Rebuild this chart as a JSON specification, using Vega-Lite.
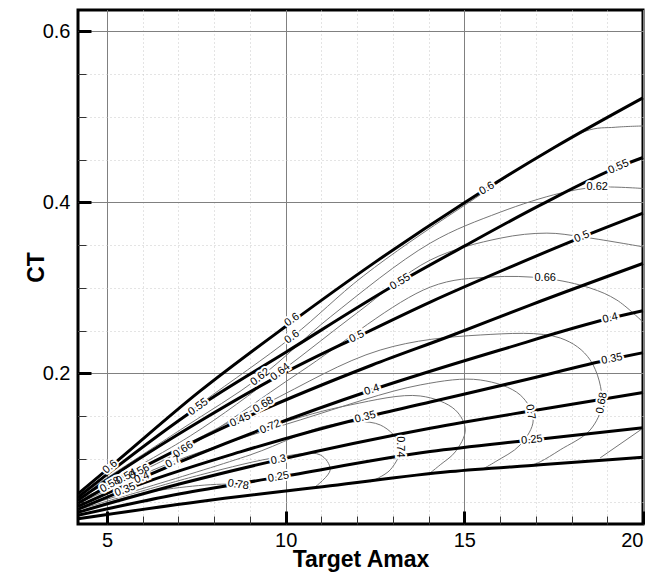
{
  "$schema": "https://vega.github.io/schema/vega-lite/v6.json",
  "width": 565,
  "height": 514,
  "autosize": "none",
  "padding": {"left": 78, "top": 10, "right": 11, "bottom": 50},
  "background": "white",
  "config": {
    "view": {"stroke": "black", "strokeWidth": 3},
    "axis": {"labelFont": "Liberation Sans", "titleFont": "Liberation Sans", "labelColor": "black", "titleColor": "black", "domain": false}
  },
  "datasets": {
    "thick": [
      {"c":"0.6","i":0,"x":4.19,"y":0.0593},{"c":"0.6","i":1,"x":5.092,"y":0.0908},{"c":"0.6","i":2,"x":7.611,"y":0.1796},{"c":"0.6","i":3,"x":10.017,"y":0.2555},{"c":"0.6","i":4,"x":12.507,"y":0.3302},{"c":"0.6","i":5,"x":15.026,"y":0.4003},{"c":"0.6","i":6,"x":17.529,"y":0.4645},{"c":"0.6","i":7,"x":20,"y":0.5223},
      {"c":"0.55","i":0,"x":4.19,"y":0.0552},{"c":"0.55","i":1,"x":5.092,"y":0.085},{"c":"0.55","i":2,"x":7.555,"y":0.1609},{"c":"0.55","i":3,"x":10.017,"y":0.2251},{"c":"0.55","i":4,"x":13.206,"y":0.3072},{"c":"0.55","i":5,"x":15.026,"y":0.3495},{"c":"0.55","i":6,"x":17.123,"y":0.3968},{"c":"0.55","i":7,"x":19.314,"y":0.4415},{"c":"0.55","i":8,"x":20,"y":0.4525},
      {"c":"0.5","i":0,"x":4.19,"y":0.0517},{"c":"0.5","i":1,"x":5.092,"y":0.078},{"c":"0.5","i":2,"x":7.611,"y":0.1445},{"c":"0.5","i":3,"x":10.017,"y":0.2018},{"c":"0.5","i":4,"x":11.995,"y":0.2426},{"c":"0.5","i":5,"x":14.046,"y":0.2835},{"c":"0.5","i":6,"x":16.284,"y":0.3244},{"c":"0.5","i":7,"x":18.29,"y":0.3594},{"c":"0.5","i":8,"x":20,"y":0.3874},
      {"c":"0.45","i":0,"x":4.19,"y":0.0482},{"c":"0.45","i":1,"x":5.092,"y":0.0698},{"c":"0.45","i":2,"x":8.73,"y":0.1457},{"c":"0.45","i":3,"x":12.423,"y":0.2099},{"c":"0.45","i":4,"x":14.606,"y":0.2438},{"c":"0.45","i":5,"x":16.844,"y":0.28},{"c":"0.45","i":6,"x":20,"y":0.3287},
      {"c":"0.4","i":0,"x":4.19,"y":0.0447},{"c":"0.4","i":1,"x":5.092,"y":0.0616},{"c":"0.4","i":2,"x":5.979,"y":0.078},{"c":"0.4","i":3,"x":9.289,"y":0.134},{"c":"0.4","i":4,"x":12.415,"y":0.1807},{"c":"0.4","i":5,"x":16.004,"y":0.2274},{"c":"0.4","i":6,"x":19.082,"y":0.2645},{"c":"0.4","i":7,"x":20,"y":0.2733},
      {"c":"0.35","i":0,"x":4.19,"y":0.0412},{"c":"0.35","i":1,"x":5.512,"y":0.064},{"c":"0.35","i":2,"x":8.73,"y":0.1083},{"c":"0.35","i":3,"x":12.227,"y":0.1489},{"c":"0.35","i":4,"x":14.046,"y":0.1667},{"c":"0.35","i":5,"x":16.564,"y":0.1912},{"c":"0.35","i":6,"x":19.13,"y":0.2169},{"c":"0.35","i":7,"x":20,"y":0.2243},
      {"c":"0.3","i":0,"x":4.19,"y":0.0377},{"c":"0.3","i":1,"x":7.051,"y":0.071},{"c":"0.3","i":2,"x":9.801,"y":0.099},{"c":"0.3","i":3,"x":14.046,"y":0.136},{"c":"0.3","i":4,"x":17.123,"y":0.158},{"c":"0.3","i":5,"x":20,"y":0.1778},
      {"c":"0.25","i":0,"x":4.19,"y":0.0342},{"c":"0.25","i":1,"x":7.051,"y":0.0593},{"c":"0.25","i":2,"x":9.801,"y":0.0788},{"c":"0.25","i":3,"x":14.046,"y":0.1087},{"c":"0.25","i":4,"x":16.891,"y":0.1223},{"c":"0.25","i":5,"x":20,"y":0.1366},
      {"c":"0.2","i":0,"x":4.19,"y":0.0301},{"c":"0.2","i":1,"x":7.611,"y":0.0503},{"c":"0.2","i":2,"x":11.248,"y":0.0686},{"c":"0.2","i":3,"x":14.606,"y":0.0853},{"c":"0.2","i":4,"x":17.123,"y":0.0932},{"c":"0.2","i":5,"x":20,"y":0.1021}
    ],
    "thin": [
      {"c":"e0.6","i":0,"x":4.19,"y":0.057},{"c":"e0.6","i":1,"x":7.611,"y":0.1644},{"c":"e0.6","i":2,"x":10.176,"y":0.2426},{"c":"e0.6","i":3,"x":12.171,"y":0.3139},{"c":"e0.6","i":4,"x":14.886,"y":0.3933},{"c":"e0.6","i":5,"x":18.383,"y":0.4832},{"c":"e0.6","i":6,"x":19.222,"y":0.4879},{"c":"e0.6","i":7,"x":20,"y":0.4894},
      {"c":"e0.62","i":0,"x":4.19,"y":0.0558},{"c":"e0.62","i":1,"x":7.051,"y":0.134},{"c":"e0.62","i":2,"x":9.289,"y":0.1959},{"c":"e0.62","i":3,"x":11.248,"y":0.266},{"c":"e0.62","i":4,"x":14.046,"y":0.3524},{"c":"e0.62","i":5,"x":16.004,"y":0.3886},{"c":"e0.62","i":6,"x":17.683,"y":0.4108},{"c":"e0.62","i":7,"x":18.718,"y":0.4178},{"c":"e0.62","i":8,"x":20,"y":0.4163},
      {"c":"e0.64","i":0,"x":4.19,"y":0.0534},{"c":"e0.64","i":1,"x":7.331,"y":0.127},{"c":"e0.64","i":2,"x":9.849,"y":0.2018},{"c":"e0.64","i":3,"x":11.995,"y":0.2707},{"c":"e0.64","i":4,"x":14.046,"y":0.3326},{"c":"e0.64","i":5,"x":16.004,"y":0.3582},{"c":"e0.64","i":6,"x":17.311,"y":0.3641},{"c":"e0.64","i":7,"x":18.29,"y":0.3598},{"c":"e0.64","i":8,"x":20,"y":0.3481},
      {"c":"e0.66","i":0,"x":4.19,"y":0.0523},{"c":"e0.66","i":1,"x":7.135,"y":0.1107},{"c":"e0.66","i":2,"x":10.408,"y":0.2018},{"c":"e0.66","i":3,"x":14.046,"y":0.301},{"c":"e0.66","i":4,"x":15.725,"y":0.3127},{"c":"e0.66","i":5,"x":17.263,"y":0.3112},{"c":"e0.66","i":6,"x":18.522,"y":0.2999},{"c":"e0.66","i":7,"x":19.27,"y":0.2858},{"c":"e0.66","i":8,"x":20,"y":0.2601},
      {"c":"e0.66b","i":0,"x":20,"y":0.136},{"c":"e0.66b","i":1,"x":18.802,"y":0.1013},
      {"c":"e0.68","i":0,"x":4.19,"y":0.0499},{"c":"e0.68","i":1,"x":9.373,"y":0.1632},{"c":"e0.68","i":2,"x":12.647,"y":0.2274},{"c":"e0.68","i":3,"x":15.445,"y":0.245},{"c":"e0.68","i":4,"x":17.683,"y":0.2415},{"c":"e0.68","i":5,"x":18.522,"y":0.2158},{"c":"e0.68","i":6,"x":18.85,"y":0.1655},{"c":"e0.68","i":7,"x":18.522,"y":0.134},{"c":"e0.68","i":8,"x":17.683,"y":0.1107},{"c":"e0.68","i":9,"x":17.123,"y":0.0967},{"c":"e0.68","i":10,"x":16.844,"y":0.092},
      {"c":"e0.7","i":0,"x":4.19,"y":0.0476},{"c":"e0.7","i":1,"x":6.855,"y":0.0967},{"c":"e0.7","i":2,"x":10.408,"y":0.1457},{"c":"e0.7","i":3,"x":13.766,"y":0.1866},{"c":"e0.7","i":4,"x":15.445,"y":0.1924},{"c":"e0.7","i":5,"x":16.564,"y":0.1749},{"c":"e0.7","i":6,"x":16.928,"y":0.1457},{"c":"e0.7","i":7,"x":16.564,"y":0.1165},{"c":"e0.7","i":8,"x":15.865,"y":0.0967},{"c":"e0.7","i":9,"x":15.529,"y":0.0885},
      {"c":"e0.72","i":0,"x":4.19,"y":0.0453},{"c":"e0.72","i":1,"x":9.569,"y":0.1375},{"c":"e0.72","i":2,"x":11.807,"y":0.1632},{"c":"e0.72","i":3,"x":13.766,"y":0.1737},{"c":"e0.72","i":4,"x":14.746,"y":0.1574},{"c":"e0.72","i":5,"x":15.026,"y":0.134},{"c":"e0.72","i":6,"x":14.746,"y":0.1083},{"c":"e0.72","i":7,"x":14.326,"y":0.0932},{"c":"e0.72","i":8,"x":14.046,"y":0.0838},
      {"c":"e0.74","i":0,"x":4.19,"y":0.0429},{"c":"e0.74","i":1,"x":9.009,"y":0.1048},{"c":"e0.74","i":2,"x":11.248,"y":0.1398},{"c":"e0.74","i":3,"x":12.647,"y":0.1398},{"c":"e0.74","i":4,"x":13.206,"y":0.1142},{"c":"e0.74","i":5,"x":12.927,"y":0.0873},{"c":"e0.74","i":6,"x":12.367,"y":0.0733},
      {"c":"e0.76","i":0,"x":4.19,"y":0.0406},{"c":"e0.76","i":1,"x":7.611,"y":0.0814},{"c":"e0.76","i":2,"x":9.849,"y":0.1025},{"c":"e0.76","i":3,"x":10.968,"y":0.1048},{"c":"e0.76","i":4,"x":11.248,"y":0.0873},{"c":"e0.76","i":5,"x":10.828,"y":0.0674},
      {"c":"e0.78","i":0,"x":4.19,"y":0.0382},{"c":"e0.78","i":1,"x":6.212,"y":0.0616},{"c":"e0.78","i":2,"x":8.674,"y":0.0698},{"c":"e0.78","i":3,"x":9.009,"y":0.064}
    ],
    "labels": [
      {"x":5.092,"y":0.0908,"t":"0.6","a":-40},
      {"x":10.176,"y":0.2625,"t":"0.6","a":-35},
      {"x":15.632,"y":0.4163,"t":"0.6","a":-30},
      {"x":7.555,"y":0.1609,"t":"0.55","a":-36},
      {"x":13.206,"y":0.3072,"t":"0.55","a":-31},
      {"x":19.314,"y":0.4415,"t":"0.55","a":-24},
      {"x":11.995,"y":0.243,"t":"0.5","a":-26},
      {"x":18.29,"y":0.3598,"t":"0.5","a":-23},
      {"x":8.73,"y":0.1457,"t":"0.45","a":-24},
      {"x":5.979,"y":0.078,"t":"0.4","a":-23},
      {"x":12.415,"y":0.1807,"t":"0.4","a":-18},
      {"x":19.082,"y":0.2645,"t":"0.4","a":-14},
      {"x":5.512,"y":0.064,"t":"0.35","a":-21},
      {"x":12.227,"y":0.1489,"t":"0.35","a":-15},
      {"x":19.13,"y":0.2169,"t":"0.35","a":-11},
      {"x":9.801,"y":0.099,"t":"0.3","a":-11},
      {"x":9.801,"y":0.0788,"t":"0.25","a":-10},
      {"x":16.891,"y":0.1223,"t":"0.25","a":-6},
      {"x":10.176,"y":0.2426,"t":"0.6","a":-35},
      {"x":5.092,"y":0.0698,"t":"0.58","a":-30},
      {"x":5.54,"y":0.0791,"t":"0.54","a":-28},
      {"x":5.904,"y":0.0849,"t":"0.56","a":-28},
      {"x":9.289,"y":0.1959,"t":"0.62","a":-38},
      {"x":18.718,"y":0.4178,"t":"0.62","a":0},
      {"x":9.849,"y":0.2018,"t":"0.64","a":-38},
      {"x":7.135,"y":0.1107,"t":"0.66","a":-33},
      {"x":17.263,"y":0.3112,"t":"0.66","a":0},
      {"x":9.373,"y":0.1632,"t":"0.68","a":-30},
      {"x":18.85,"y":0.1655,"t":"0.68","a":-80},
      {"x":6.855,"y":0.0967,"t":"0.7","a":-30},
      {"x":16.844,"y":0.155,"t":"0.7","a":80},
      {"x":9.569,"y":0.1375,"t":"0.72","a":-22},
      {"x":13.206,"y":0.1142,"t":"0.74","a":90},
      {"x":8.674,"y":0.0698,"t":"0.78","a":8}
    ]
  },
  "resolve": {"axis": {"x": "independent", "y": "independent"}},
  "layer": [
    {
      "data": {"name": "thin"},
      "mark": {"type": "line", "interpolate": "catmull-rom", "stroke": "#767676", "strokeWidth": 1},
      "encoding": {
        "x": {"field": "x", "type": "quantitative", "scale": {"domain": [4.19, 20], "nice": false, "zero": false},
          "axis": {"orient": "bottom", "values": [5,6,7,8,9,10,11,12,13,14,15,16,17,18,19,20], "labels": false, "title": null, "tickSize": -8, "tickWidth": 1, "tickColor": "#333", "grid": true, "gridColor": "#c8c8c8", "gridDash": [1,3], "gridWidth": 1}},
        "y": {"field": "y", "type": "quantitative", "scale": {"domain": [0.024, 0.625], "nice": false, "zero": false},
          "axis": {"orient": "left", "values": [0.05,0.1,0.15,0.2,0.25,0.3,0.35,0.4,0.45,0.5,0.55,0.6], "labels": false, "title": null, "tickSize": -8, "tickWidth": 1, "tickColor": "#333", "grid": true, "gridColor": "#c8c8c8", "gridDash": [1,3], "gridWidth": 1}},
        "detail": {"field": "c"},
        "order": {"field": "i", "type": "quantitative"}
      }
    },
    {
      "data": {"name": "thick"},
      "mark": {"type": "line", "interpolate": "monotone", "stroke": "black", "strokeWidth": 3},
      "encoding": {
        "x": {"field": "x", "type": "quantitative", "scale": {"domain": [4.19, 20], "nice": false, "zero": false},
          "axis": {"orient": "bottom", "values": [5,10,15,20], "title": "Target Amax", "titleFontSize": 23, "titleFontWeight": "bold", "titlePadding": -2, "labelFontSize": 20, "labelPadding": 19, "tickSize": -13, "tickWidth": 3, "tickColor": "black", "grid": true, "gridColor": "#808080", "gridWidth": 1}},
        "y": {"field": "y", "type": "quantitative", "scale": {"domain": [0.024, 0.625], "nice": false, "zero": false},
          "axis": {"orient": "left", "values": [0.2,0.4,0.6], "format": ".1f", "title": "CT", "titleFontSize": 23, "titleFontWeight": "bold", "titlePadding": -6, "labelFontSize": 20, "labelPadding": 21, "tickSize": -13, "tickWidth": 3, "tickColor": "black", "grid": true, "gridColor": "#808080", "gridWidth": 1}},
        "detail": {"field": "c"},
        "order": {"field": "i", "type": "quantitative"}
      }
    },
    {
      "data": {"name": "labels"},
      "mark": {"type": "text", "font": "Liberation Sans", "fontSize": 11, "fill": "white", "stroke": "white", "strokeWidth": 4, "align": "center", "baseline": "middle"},
      "encoding": {
        "x": {"field": "x", "type": "quantitative", "scale": {"domain": [4.19, 20], "nice": false, "zero": false}, "axis": null},
        "y": {"field": "y", "type": "quantitative", "scale": {"domain": [0.024, 0.625], "nice": false, "zero": false}, "axis": null},
        "text": {"field": "t"},
        "angle": {"field": "a", "type": "quantitative", "scale": null}
      }
    },
    {
      "data": {"name": "labels"},
      "mark": {"type": "text", "font": "Liberation Sans", "fontSize": 11, "fill": "black", "align": "center", "baseline": "middle"},
      "encoding": {
        "x": {"field": "x", "type": "quantitative", "scale": {"domain": [4.19, 20], "nice": false, "zero": false}, "axis": null},
        "y": {"field": "y", "type": "quantitative", "scale": {"domain": [0.024, 0.625], "nice": false, "zero": false}, "axis": null},
        "text": {"field": "t"},
        "angle": {"field": "a", "type": "quantitative", "scale": null}
      }
    }
  ]
}
